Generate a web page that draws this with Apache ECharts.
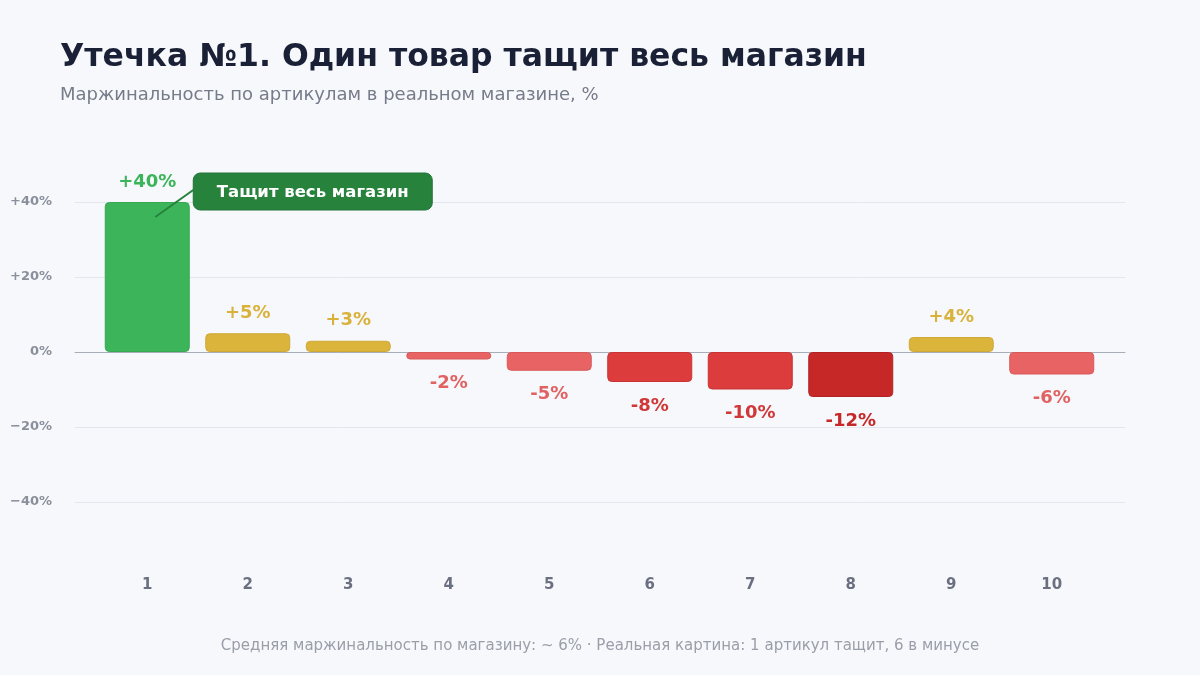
<!DOCTYPE html>
<html>
<head>
<meta charset="utf-8">
<script src="https://cdn.jsdelivr.net/npm/echarts@6/dist/echarts.min.js"></script>
<style>
  html, body { margin: 0; padding: 0; background: #f7f8fc; }
  #main { width: 1200px; height: 675px; }
</style>
</head>
<body>
<div id="main"></div>
<script>
// data
var categories = ['1', '2', '3', '4', '5', '6', '7', '8', '9', '10'];
var margins = [40, 5, 3, -2, -5, -8, -10, -12, 4, -6];
var yTicks = [-40, -20, 0, 20, 40];
var leaderIndex = 0;
var leaderNote = 'Тащит весь магазин';

var font = '"DejaVu Sans", sans-serif';

function barColor(v) {
    if (v >= 20) return ['#3cb55a', '#36a852', '#3cb55a'];
    if (v > 0) return ['#dbb43c', '#cfa936', '#d9b23c'];
    if (v >= -6) return ['#e86464', '#d95858', '#e06262'];
    if (v >= -10) return ['#dc3c3c', '#c93333', '#d03838'];
    return ['#c62828', '#b32222', '#c62828'];
}

var myChart = echarts.init(document.getElementById('main'));

myChart.setOption({
    backgroundColor: '#f7f8fc',
    textStyle: { fontFamily: font },
    title: [{
        text: 'Утечка №1. Один товар тащит весь магазин',
        left: 60, top: 42, padding: 0,
        textStyle: { fontSize: 31.5, fontWeight: 'bold', color: '#1a2035', fontFamily: font }
    }, {
        text: 'Маржинальность по артикулам в реальном магазине, %',
        left: 60, top: 86, padding: 0,
        textStyle: { fontSize: 18, fontWeight: 'normal', color: '#767b89', fontFamily: font }
    }, {
        text: 'Средняя маржинальность по магазину: ~ 6% · Реальная картина: 1 артикул тащит, 6 в минусе',
        left: 'center', top: 639, padding: 0,
        textStyle: { fontSize: 15, fontWeight: 'normal', color: '#9a9ea9', fontFamily: font }
    }],
    grid: [
        { left: 75, right: 75, top: 202, bottom: 173 },
        { left: 97, right: 98, top: 202, bottom: 173 }
    ],
    xAxis: [{
        gridIndex: 0,
        type: 'value',
        min: 0, max: 1,
        axisLine: { show: true, onZero: true, lineStyle: { color: '#a7adb9', width: 1 } },
        axisTick: { show: false },
        axisLabel: { show: false },
        splitLine: { show: false }
    }, {
        gridIndex: 1,
        type: 'category',
        data: categories,
        axisLine: { show: false, onZero: false },
        axisTick: { show: false },
        axisLabel: {
            margin: 76,
            fontSize: 15, fontWeight: 'bold', color: '#6b7080', fontFamily: font
        }
    }],
    yAxis: [{
        gridIndex: 0,
        type: 'value',
        min: yTicks[0], max: yTicks[yTicks.length - 1], interval: 20,
        axisLine: { show: false },
        axisTick: { show: false },
        splitLine: { lineStyle: { color: '#e3e6ec', width: 1 } },
        axisLabel: {
            margin: 23,
            padding: [4, 0, 0, 0],
            fontSize: 13, fontWeight: 'bold', color: '#8a8f9c', fontFamily: font,
            formatter: function (v) {
                if (v > 0) return '+' + v + '%';
                if (v < 0) return '\u2212' + Math.abs(v) + '%';
                return '0%';
            }
        }
    }, {
        gridIndex: 1,
        type: 'value',
        min: yTicks[0], max: yTicks[yTicks.length - 1],
        show: false,
        splitLine: { show: false }
    }],
    series: [{
        type: 'bar',
        xAxisIndex: 1,
        yAxisIndex: 1,
        barWidth: 85,
        data: margins.map(function (v) {
            var c = barColor(v);
            return {
                value: v,
                itemStyle: { color: c[0], borderColor: c[1], borderWidth: 1, borderRadius: 4 },
                label: {
                    position: v >= 0 ? 'top' : 'bottom',
                    distance: v >= 0 ? 11 : 15,
                    color: c[2]
                }
            };
        }),
        label: {
            show: true,
            fontSize: 18, fontWeight: 'bold', fontFamily: font,
            formatter: function (p) {
                return (p.value > 0 ? '+' : '') + p.value + '%';
            }
        }
    }]
});

// callout next to the leading bar, anchored to its data position
var anchor = myChart.convertToPixel({ seriesIndex: 0 }, [leaderIndex, margins[leaderIndex] * 0.9]);
var barTop = myChart.convertToPixel({ seriesIndex: 0 }, [leaderIndex, margins[leaderIndex]]);
var sx = anchor[0] + 8, sy = anchor[1];
var boxX = sx + 38, boxY = barTop[1] - 29, boxW = 239, boxH = 37;

myChart.setOption({
    graphic: [{
        type: 'line',
        shape: { x1: sx, y1: sy, x2: boxX, y2: boxY + 17 },
        style: { stroke: '#27823c', lineWidth: 2 },
        z: 10
    }, {
        type: 'rect',
        shape: { x: boxX, y: boxY, width: boxW, height: boxH, r: 7 },
        style: { fill: '#27823c', stroke: '#22753a', lineWidth: 1 },
        z: 11
    }, {
        type: 'text',
        x: boxX + boxW / 2, y: boxY + boxH / 2 + 1,
        style: {
            text: leaderNote,
            fill: '#ffffff', fontSize: 16.5, fontWeight: 'bold', fontFamily: 'DejaVu Sans',
            align: 'center', verticalAlign: 'middle'
        },
        z: 12
    }]
});
</script>
</body>
</html>
